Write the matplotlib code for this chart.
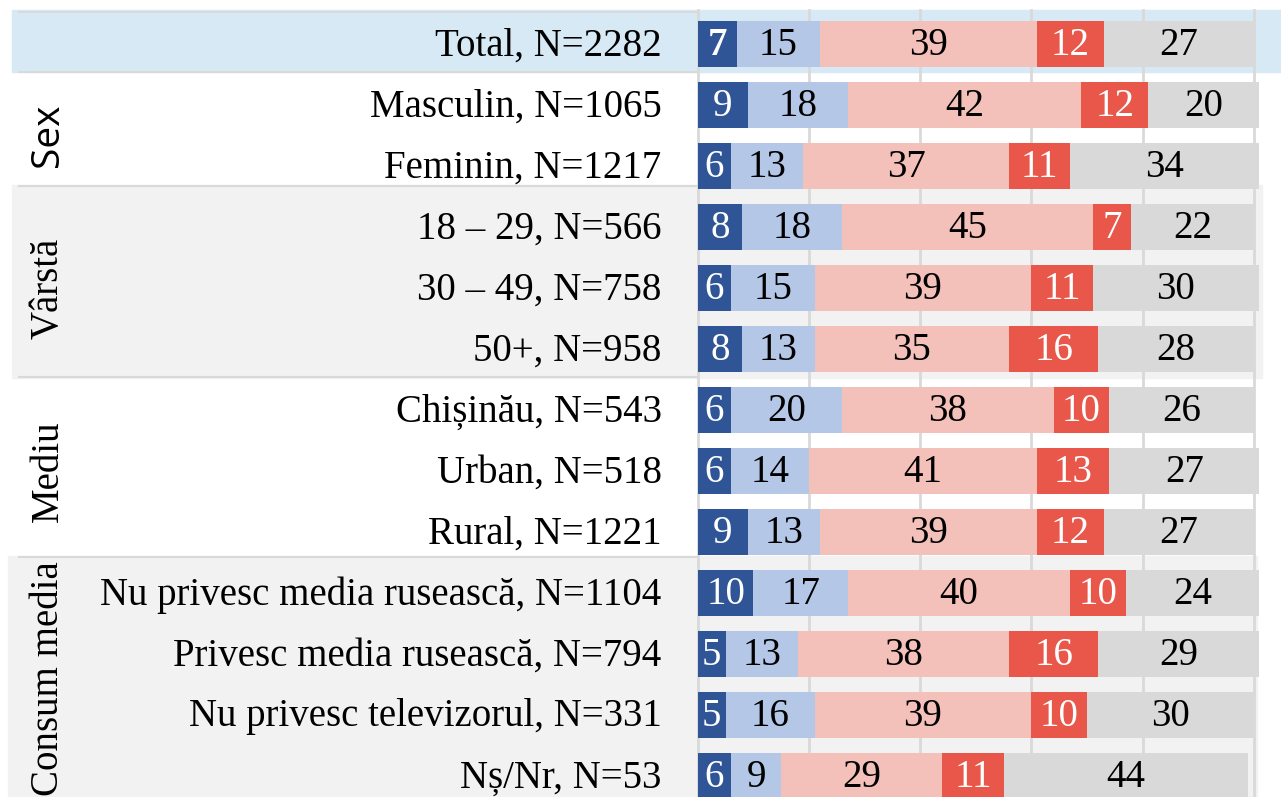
import matplotlib.pyplot as plt
from matplotlib.patches import Rectangle

# data
labels = ["Total, N=2282", "Masculin, N=1065", "Feminin, N=1217",
          "18 – 29, N=566", "30 – 49, N=758", "50+, N=958",
          "Chișinău, N=543", "Urban, N=518", "Rural, N=1221",
          "Nu privesc media rusească, N=1104", "Privesc media rusească, N=794",
          "Nu privesc televizorul, N=331", "Nș/Nr, N=53"]
s1 = [7, 9, 6, 8, 6, 8, 6, 6, 9, 10, 5, 5, 6]
s2 = [15, 18, 13, 18, 15, 13, 20, 14, 13, 17, 13, 16, 9]
s3 = [39, 42, 37, 45, 39, 35, 38, 41, 39, 40, 38, 39, 29]
s4 = [12, 12, 11, 7, 11, 16, 10, 13, 12, 10, 16, 10, 11]
s5 = [27, 20, 34, 22, 30, 28, 26, 27, 27, 24, 29, 30, 44]
groups = ["Sex", "Vârstă", "Mediu", "Consum media"]

series = [s1, s2, s3, s4, s5]
colors = ["#2F5597", "#B4C7E7", "#F4C0BA", "#E8574A", "#D9D9D9"]
txt_colors = ["white", "black", "black", "white", "black"]

serif = "Liberation Serif"
fs = 28

fig = plt.figure(figsize=(12.81, 7.97), dpi=100)
ax = fig.add_axes([0, 0, 1, 1])
ax.set_xlim(-125.5, 104.9)
ax.set_ylim(12.344, -0.721)
ax.axis("off")

# background bands
ax.add_patch(Rectangle((-123.4, -0.56), 240, 1.02, color="#D6E9F5", zorder=0))
ax.add_patch(Rectangle((-123.4, 2.31), 224.9, 3.17, color="#F2F2F2", zorder=0))
ax.add_patch(Rectangle((-124.1, 8.39), 224.6, 4.5, color="#F2F2F2", zorder=0))
for yb in [-0.52, 0.46, 2.33, 5.46, 8.41]:
    ax.plot([-122, 0], [yb, yb], color="#D9D9D9", lw=1.5, zorder=1)

# grid lines and left spine
for gx in [0, 20, 40, 60, 80, 100]:
    ax.plot([gx, gx], [-0.55, 12.4], color="#D9D9D9", lw=2, zorder=1)

ypos = list(range(len(labels)))
left = [0] * len(labels)
for k, vals in enumerate(series):
    ax.barh(ypos, vals, left=left, height=0.75, color=colors[k], zorder=2)
    for i, v in enumerate(vals):
        weight = "bold" if (i == 0 and k == 0) else "normal"
        ax.text(left[i] + v / 2, i + 0.03, str(v), ha="center", va="center",
                color=txt_colors[k], fontsize=fs, family=serif,
                fontweight=weight, zorder=3)
    left = [l + v for l, v in zip(left, vals)]

for i, lab in enumerate(labels):
    ax.text(-6.5, i + 0.03, lab, ha="right", va="center", fontsize=fs, family=serif)

# group labels
ax.text(-116.8, 1.5, groups[0], rotation=90, ha="center", va="center",
        fontsize=fs, family="Open Sans")
ax.text(-116.8, 4, groups[1], rotation=90, ha="center", va="center",
        fontsize=fs, family=serif)
ax.text(-116.8, 7, groups[2], rotation=90, ha="center", va="center",
        fontsize=fs, family=serif)
ax.text(-116.8, 10.4, groups[3], rotation=90, ha="center", va="center",
        fontsize=fs, family=serif)

fig.savefig("out.png", dpi=100)
